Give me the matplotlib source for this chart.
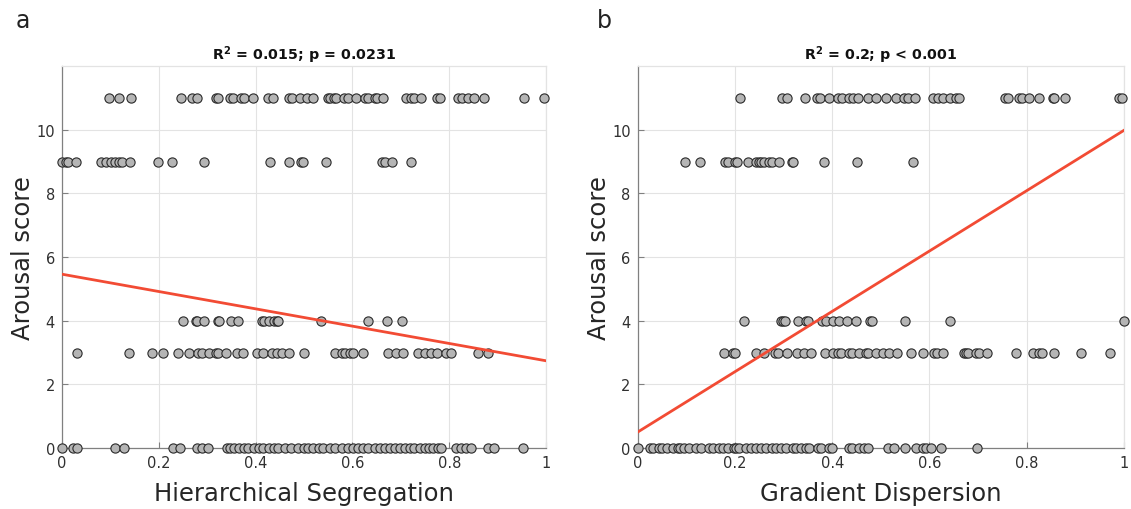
import matplotlib
matplotlib.use("Agg")
import matplotlib.pyplot as plt

# ---- Panel a: Hierarchical Segregation vs arousal ----
seg_score11 = [0.097, 0.117, 0.143, 0.245, 0.269, 0.279, 0.319, 0.322, 0.348, 0.353,
               0.369, 0.375, 0.394, 0.425, 0.435, 0.468, 0.476, 0.492, 0.507, 0.519,
               0.549, 0.553, 0.562, 0.567, 0.583, 0.591, 0.608, 0.626, 0.632, 0.646,
               0.651, 0.663, 0.711, 0.720, 0.727, 0.741, 0.775, 0.780, 0.818, 0.826,
               0.838, 0.852, 0.872, 0.955, 0.996]
seg_score9 = [0.0, 0.008, 0.012, 0.029, 0.080, 0.091, 0.101, 0.110, 0.118, 0.125,
              0.140, 0.198, 0.228, 0.294, 0.430, 0.470, 0.493, 0.497, 0.545, 0.661,
              0.667, 0.682, 0.720]
seg_score4 = [0.250, 0.276, 0.279, 0.294, 0.322, 0.325, 0.349, 0.364, 0.413, 0.418,
              0.427, 0.438, 0.444, 0.447, 0.536, 0.632, 0.672, 0.703]
seg_score3 = [0.032, 0.139, 0.187, 0.208, 0.240, 0.262, 0.281, 0.289, 0.303, 0.318,
              0.322, 0.339, 0.361, 0.374, 0.403, 0.416, 0.434, 0.444, 0.454, 0.468,
              0.499, 0.564, 0.578, 0.584, 0.595, 0.601, 0.622, 0.673, 0.691, 0.704,
              0.735, 0.750, 0.763, 0.775, 0.794, 0.804, 0.859, 0.880]
seg_score0 = [0.0, 0.022, 0.030, 0.110, 0.128, 0.229, 0.243, 0.279, 0.289, 0.302,
              0.341, 0.348, 0.355, 0.365, 0.375, 0.385, 0.396, 0.406, 0.416, 0.427,
              0.437, 0.447, 0.461, 0.474, 0.488, 0.499, 0.509, 0.519, 0.530, 0.540,
              0.553, 0.564, 0.578, 0.591, 0.601, 0.612, 0.622, 0.632, 0.646, 0.656,
              0.667, 0.677, 0.687, 0.698, 0.708, 0.718, 0.728, 0.739, 0.749, 0.759,
              0.766, 0.776, 0.783, 0.814, 0.824, 0.835, 0.845, 0.880, 0.893, 0.953]
seg_fit = (5.46, -2.72)  # intercept, slope

# ---- Panel b: Gradient Dispersion vs arousal ----
disp_score11 = [0.210, 0.297, 0.308, 0.345, 0.368, 0.374, 0.393, 0.411, 0.420, 0.435,
                0.443, 0.454, 0.473, 0.490, 0.511, 0.531, 0.548, 0.555, 0.571, 0.608,
                0.617, 0.627, 0.642, 0.654, 0.661, 0.756, 0.761, 0.785, 0.790, 0.804,
                0.826, 0.854, 0.857, 0.878, 0.989, 0.996]
disp_score9 = [0.098, 0.128, 0.180, 0.185, 0.201, 0.205, 0.226, 0.243, 0.249, 0.253,
               0.260, 0.270, 0.277, 0.290, 0.317, 0.320, 0.384, 0.451, 0.567]
disp_score4 = [0.218, 0.295, 0.298, 0.302, 0.329, 0.346, 0.351, 0.380, 0.387, 0.402,
               0.415, 0.430, 0.449, 0.478, 0.482, 0.549, 0.643, 0.999]
disp_score3 = [0.178, 0.196, 0.201, 0.243, 0.260, 0.283, 0.289, 0.308, 0.328, 0.342,
               0.356, 0.385, 0.402, 0.411, 0.419, 0.435, 0.440, 0.455, 0.469, 0.473,
               0.490, 0.505, 0.517, 0.533, 0.562, 0.586, 0.609, 0.615, 0.627, 0.672,
               0.676, 0.680, 0.696, 0.702, 0.718, 0.778, 0.812, 0.826, 0.831, 0.857,
               0.912, 0.972]
disp_score0 = [0.0, 0.025, 0.032, 0.044, 0.051, 0.061, 0.072, 0.082, 0.087, 0.096,
               0.106, 0.120, 0.130, 0.147, 0.154, 0.168, 0.175, 0.185, 0.198, 0.203,
               0.209, 0.222, 0.233, 0.243, 0.253, 0.264, 0.277, 0.284, 0.295, 0.305,
               0.319, 0.325, 0.336, 0.346, 0.353, 0.370, 0.377, 0.394, 0.400, 0.435,
               0.441, 0.456, 0.466, 0.473, 0.514, 0.528, 0.550, 0.572, 0.586, 0.593,
               0.603, 0.624, 0.697]
disp_fit = (0.50, 9.48)

score_levels = [11, 9, 4, 3, 0]
x_ticks = [0, 0.2, 0.4, 0.6, 0.8, 1]
x_ticklabels = ["0", "0.2", "0.4", "0.6", "0.8", "1"]
y_ticks = [0, 2, 4, 6, 8, 10]

panels = [
    dict(letter="a", xlabel="Hierarchical Segregation",
         title=r"$\mathbf{R^2}$ = 0.015; p = 0.0231",
         rows=[seg_score11, seg_score9, seg_score4, seg_score3, seg_score0],
         fit=seg_fit, rect=[0.0548, 0.1196, 0.4280, 0.7490], letter_x=0.014),
    dict(letter="b", xlabel="Gradient Dispersion",
         title=r"$\mathbf{R^2}$ = 0.2; p < 0.001",
         rows=[disp_score11, disp_score9, disp_score4, disp_score3, disp_score0],
         fit=disp_fit, rect=[0.5638, 0.1196, 0.4300, 0.7490], letter_x=0.528),
]

plt.rcParams["font.family"] = ["DejaVu Sans"]
fig = plt.figure(figsize=(11.31, 5.10), dpi=100)

for p in panels:
    ax = fig.add_axes(p["rect"])
    for level, xs in zip(score_levels, p["rows"]):
        ax.scatter(xs, [level] * len(xs), s=44, facecolor="#b5b5b5",
                   edgecolor="#2b2b2b", linewidth=0.8, zorder=3, clip_on=False)
    b0, b1 = p["fit"]
    ax.plot([0, 1], [b0, b0 + b1], color="#f24b34", linewidth=2.0, zorder=4)

    ax.set_xlim(0, 1)
    ax.set_ylim(0, 12)
    ax.set_xticks(x_ticks)
    ax.set_xticklabels(x_ticklabels)
    ax.set_yticks(y_ticks)
    ax.grid(True, color="#e3e3e3", linewidth=0.8, zorder=0)
    ax.set_axisbelow(True)
    ax.tick_params(direction="in", length=4, width=0.8, color="#808080",
                   labelsize=10.5, labelcolor="#303030", pad=5)
    for side in ("left", "bottom"):
        ax.spines[side].set_color("#808080")
        ax.spines[side].set_linewidth(0.9)
    for side in ("top", "right"):
        ax.spines[side].set_color("#e3e3e3")
        ax.spines[side].set_linewidth(0.9)

    ax.set_xlabel(p["xlabel"], fontsize=17.5, color="#262626", labelpad=8)
    ax.set_ylabel("Arousal score", fontsize=17.5, color="#262626", labelpad=1)
    ax.set_title(p["title"], fontsize=10.3, fontweight="bold", color="#111111", pad=5)
    fig.text(p["letter_x"], 0.935, p["letter"], fontsize=17, color="#222222",
             ha="left", va="bottom")

fig.savefig("out.png", dpi=100, facecolor="white")
